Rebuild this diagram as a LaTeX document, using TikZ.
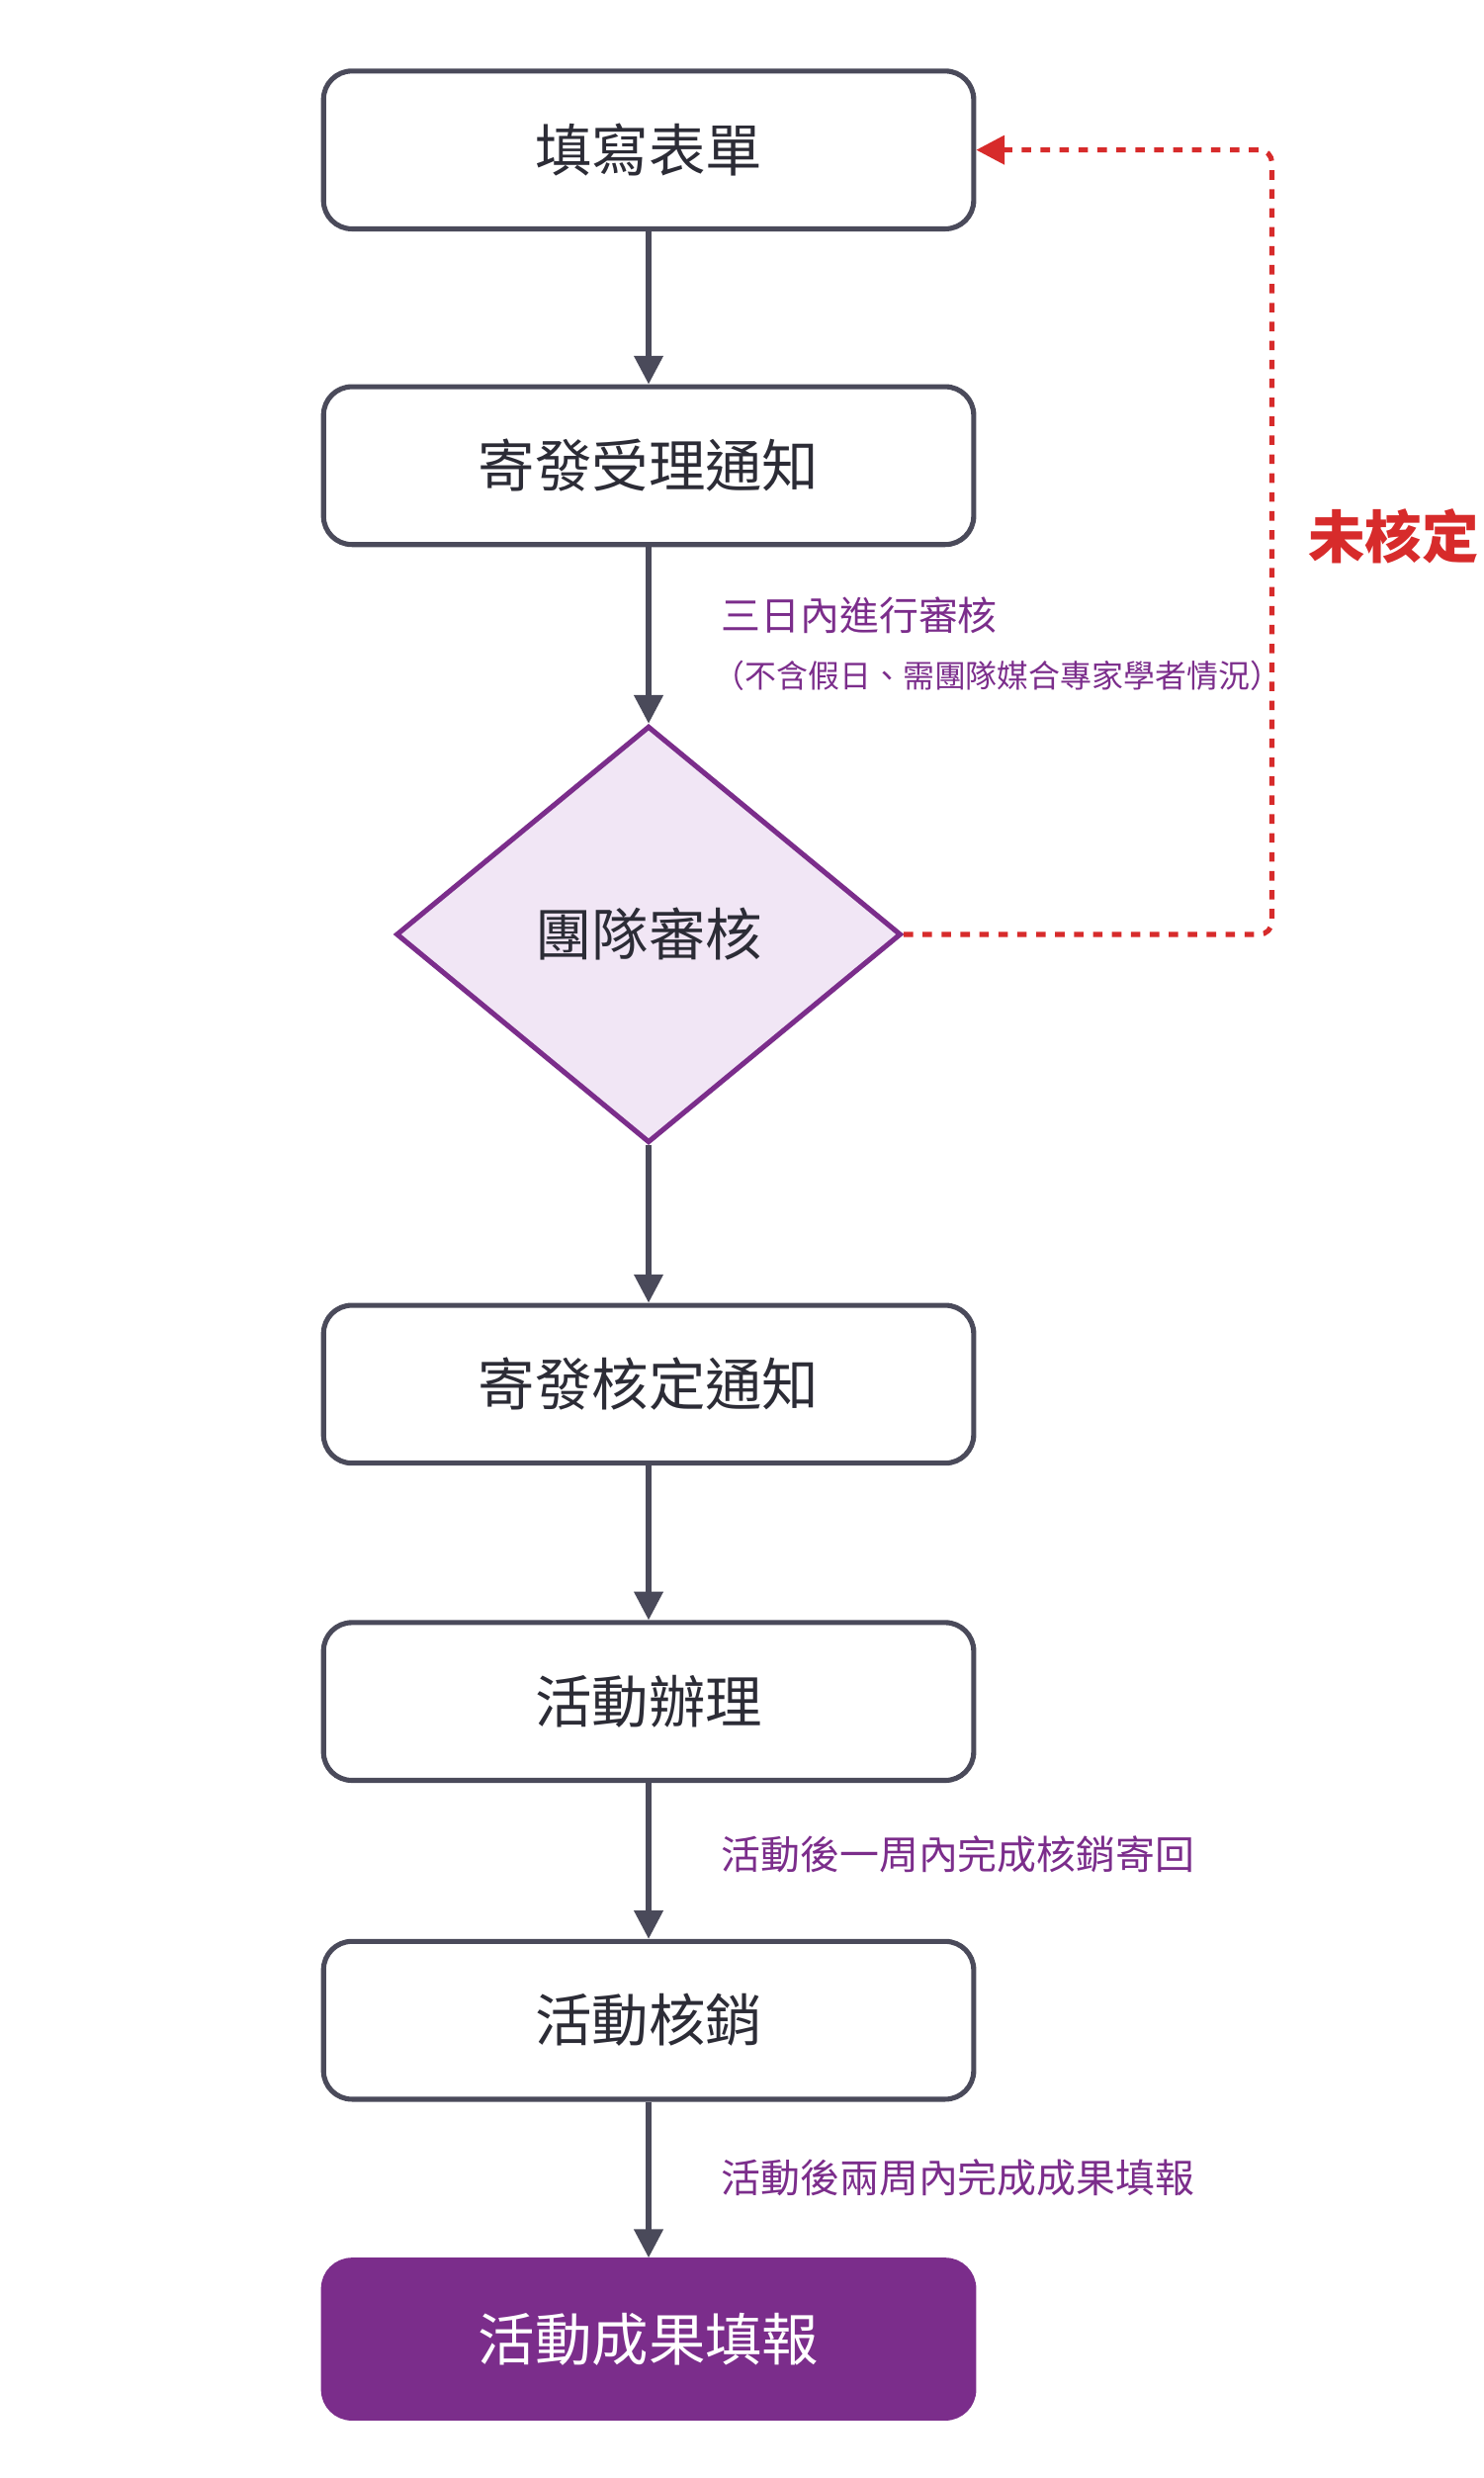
\documentclass[tikz,border=0pt]{standalone}
\usepackage{fontspec}
\newfontfamily\cjk{Noto Sans CJK TC}
\usetikzlibrary{positioning,shapes.geometric,arrows.meta}
\definecolor{edgegray}{HTML}{4A4A5A}
\definecolor{flowpurple}{HTML}{7B2D8B}
\definecolor{diafill}{HTML}{F1E6F5}
\definecolor{backred}{HTML}{D72B2B}
\tikzset{
	stage/.style={draw=edgegray, line width=1.6pt, rounded corners=9pt, minimum width=206pt, minimum height=50pt, font=\cjk\fontsize{18}{18}\selectfont, text=edgegray!60!black},
	flow/.style={draw=edgegray, line width=1.6pt, -{Triangle[length=9pt,width=9pt]}},
	note/.style={anchor=west, text=flowpurple, font=\cjk\fontsize{12.5}{14}\selectfont}
}
\begin{document}
\begin{tikzpicture}[x=0.5pt,y=-0.5pt]
	\useasboundingbox (0,0) rectangle (940,1570);
	\node[stage] (fill) at (411,95) {填寫表單};
	\node[stage] (receipt) at (411,295) {寄發受理通知};
	\node[diamond, draw=flowpurple, fill=diafill, line width=1.6pt, minimum width=160pt, minimum height=132pt, inner sep=0pt, font=\cjk\fontsize{18}{18}\selectfont, text=edgegray!60!black] (review) at (411,592) {團隊審核};
	\node[stage] (approve) at (411,877) {寄發核定通知};
	\node[stage] (hold) at (411,1078) {活動辦理};
	\node[stage] (verify) at (411,1280) {活動核銷};
	\node[stage, fill=flowpurple, draw=flowpurple, text=white] (report) at (411,1482) {活動成果填報};
	\coordinate (upper) at (806,95);
	\coordinate (lower) at (806,592);

	\draw[flow] (fill) -- (receipt);
	\draw[flow] (receipt) -- (review);
	\draw[flow] (review) -- (approve);
	\draw[flow] (approve) -- (hold);
	\draw[flow] (hold) -- (verify);
	\draw[flow] (verify) -- (report);
	\draw[backred, line width=1.6pt, dash pattern=on 3pt off 3pt, rounded corners=4pt, -{Triangle[length=9pt,width=9pt]}] (review.east) -- (lower) -- (upper) -- (fill.east);

	\node[note] at (450,390) {三日內進行審核};
	\node[note, font=\cjk\fontsize{10}{12}\selectfont] at (445,428) {（不含假日、需團隊媒合專家學者情況）};
	\node[note] at (450,1175) {活動後一周內完成核銷寄回};
	\node[note] at (450,1380) {活動後兩周內完成成果填報};
	\node[anchor=west, text=backred, font=\cjk\bfseries\fontsize{18}{18}\selectfont] at (822,340) {未核定};
\end{tikzpicture}
\end{document}
